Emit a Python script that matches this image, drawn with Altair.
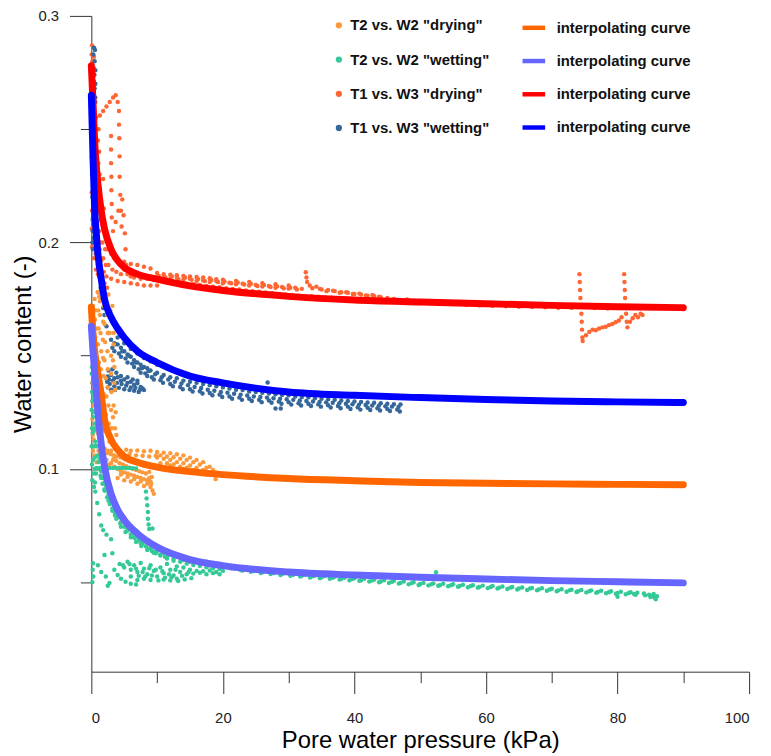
import altair as alt
import pandas as pd

# ---------------- data ----------------
series_names = ['T2 vs. W2 "drying"', 'T2 vs. W2 "wetting"',
                'T1 vs. W3 "drying"', 'T1 vs. W3 "wetting"']
point_colors = ["#FB9A3C", "#35C997", "#FF6633", "#35679A"]
curve_ids = ["c_t2_dry", "c_t2_wet", "c_t1_dry", "c_t1_wet"]
curve_colors = ["#FF6600", "#6666FF", "#FF0000", "#0000FF"]

t2_dry_pts = [
    (0.2,0.172),(0.3,0.165),(0.2,0.158),(0.35,0.15),(0.25,0.142),(0.4,0.135),(0.3,0.128),(0.45,0.12),
    (0.35,0.113),(0.5,0.106),(0.6,0.17),(0.7,0.162),(0.8,0.155),(0.75,0.147),(0.9,0.14),(0.85,0.132),
    (1.0,0.124),(0.95,0.116),(1.1,0.108),(1.2,0.176),(1.3,0.168),(1.4,0.16),(1.5,0.152),(1.45,0.144),
    (1.5,0.136),(1.55,0.128),(1.5,0.12),(1.6,0.112),(1.7,0.18),(1.9,0.172),(2.0,0.164),(2.1,0.156),
    (2.0,0.148),(2.2,0.14),(2.3,0.132),(2.2,0.124),(2.4,0.116),(2.5,0.108),(2.6,0.177),(2.7,0.169),
    (2.8,0.16),(3.0,0.15),(3.0,0.142),(3.05,0.134),(3.0,0.126),(3.1,0.118),(3.2,0.112),(3.3,0.165),
    (3.4,0.155),(3.5,0.145),(2.7,0.102),(3.5,0.105),(3.3,0.1228),(1.75,0.124),
    (0.1,0.168),(0.15,0.16),(0.1,0.152),(0.15,0.145),(0.1,0.138),(0.2,0.13),(0.15,0.122),(0.2,0.115),
    (0.25,0.108),(0.5,0.175),(0.55,0.166),(0.6,0.158),(0.55,0.15),(0.65,0.142),(0.6,0.134),(0.7,0.126),
    (0.65,0.118),(0.75,0.11),(0.8,0.103),(1.0,0.178),(1.05,0.17),(1.1,0.162),(1.0,0.155),(1.15,0.147),
    (1.2,0.139),(1.25,0.131),(1.2,0.123),(1.3,0.115),(1.35,0.107),(1.8,0.165),(1.75,0.157),(1.8,0.149),
    (1.85,0.141),(1.9,0.133),(1.85,0.125),(1.95,0.117),(2.0,0.109),(2.05,0.102),(2.4,0.168),(2.5,0.16),
    (2.45,0.152),(2.5,0.144),(2.55,0.136),(2.6,0.128),(2.65,0.12),(2.75,0.112),(3.2,0.172),(3.6,0.135),
    (3.7,0.125),(3.8,0.115),
    (1.3,0.174),(2.2,0.175),(2.9,0.17),(3.4,0.16),(3.3,0.148),(3.5,0.138),(3.4,0.128),(3.6,0.118),
    (3.0,0.108),(2.3,0.104),(1.7,0.105),(1.4,0.1),(0.9,0.1),
    (2.5,0.107),(3,0.1065),(3.5,0.106),(4,0.1055),(4.5,0.105),(5,0.1045),(5.5,0.104),(6,0.1035),
    (6.5,0.103),(7,0.1025),(7.5,0.102),(8,0.1015),(3,0.1025),(3.5,0.101),(4,0.1),(4.5,0.099),
    (5,0.0985),(5.5,0.098),(6,0.0975),(6.5,0.097),(7,0.0965),(7.5,0.096),(8,0.0955),(8.5,0.095),
    (9,0.0945),(4,0.096),(5,0.095),(6,0.0945),(7,0.0935),(8,0.0925),(9,0.092),(9.3,0.0905),
    (9.5,0.089),(8.8,0.0987),(9.2,0.0965),
    (3.3,0.104),(3.8,0.1035),(4.3,0.1025),(4.8,0.102),(5.3,0.1012),(5.8,0.1005),(6.3,0.1),(6.8,0.0995),
    (7.3,0.099),(7.8,0.0985),(8.3,0.098),(8.8,0.096),(4.5,0.0975),(5.5,0.0965),(6.5,0.0955),
    (7.5,0.0945),(8.5,0.0935),(9.1,0.0935),
    (5.3,0.1085),(6,0.108),(7,0.1082),(8,0.1078),(9,0.108),(10,0.1075),(11,0.1072),(12,0.107),
    (13,0.1065),(14,0.106),(15,0.105),(16,0.104),(17,0.103),(18,0.101),(18.9,0.0985),(10,0.105),
    (11,0.1045),(12,0.104),(13,0.103),(14,0.1025),(15,0.1015),(16,0.1005),(17,0.0995),(18,0.098),
    (18.9,0.0955),(12,0.1015),(14,0.1),(16,0.0985),
    (5.8,0.1065),(6.8,0.106),(7.8,0.1058),(8.8,0.1055),(9.8,0.1058),(10.5,0.106),(11.5,0.1055),
    (12.5,0.1052),(13.5,0.1045),(14.5,0.104),(15.5,0.103),(16.5,0.102),(17.5,0.1005),(18.5,0.0995),
    (10.5,0.1025),(11.5,0.1025),(12.5,0.102),(13.5,0.101),(14.5,0.1005),(15.5,0.0995),(16.5,0.0985),
    (17.5,0.0975),
]

t2_wet_pts = [
    (0.1,0.16),(0.15,0.152),(0.1,0.145),(0.2,0.138),(0.15,0.13),(0.25,0.123),(0.2,0.116),(0.3,0.11),
    (0.25,0.104),(0.35,0.098),(0.4,0.092),(0.5,0.12),(0.6,0.112),(0.55,0.105),
    (0.05,0.158),(0.1,0.15),(0.05,0.142),(0.1,0.134),(0.05,0.126),(0.1,0.118),(0.05,0.11),(0.1,0.102),
    (0.15,0.095),(0.3,0.14),(0.35,0.132),(0.3,0.125),(0.4,0.117),(0.45,0.11),(0.5,0.1),(0.55,0.094),
    (0.7,0.098),
    (0.8,0.1004),(1.3,0.1004),(1.8,0.1004),(2.3,0.1004),(2.8,0.1004),(3.3,0.1004),(3.8,0.1004),
    (4.3,0.1004),(4.8,0.1004),(5.3,0.1004),(5.8,0.1004),(6.3,0.1003),(6.8,0.1002),
    (8.3,0.09),(8.4,0.087),(8.5,0.084),(8.6,0.081),(8.6,0.078),(8.7,0.0755),(8.8,0.0735),(9.3,0.0737),
    (0.6,0.118),(0.8,0.11),(1.0,0.106),(1.25,0.1044),(1.5,0.099),(1.8,0.096),(2.0,0.094),(2.26,0.0927),
    (2.6,0.089),(3.0,0.086),(3.4,0.083),(3.77,0.0812),(4.2,0.079),(4.7,0.077),(5.2,0.0755),(5.8,0.0737),
    (6.4,0.0715),(7,0.07),(7.6,0.068),(8.3,0.0659),(9,0.065),(10,0.0638),(11,0.063),(12,0.0622),
    (13.3,0.0615),(14.5,0.0606),(16,0.0598),(17.5,0.059),(19,0.0582),(20.5,0.0575),(22,0.0565),
    (23.4,0.0558),(25,0.0553),(26.5,0.0549),(28,0.0544),(29.5,0.054),(31,0.0537),(32.5,0.0533),
    (34,0.053),(35.5,0.0527),(37,0.0524),(38.5,0.052),(40,0.0518),(41.5,0.0515),(43,0.0512),
    (44.5,0.0509),(46,0.0506),(47.5,0.0503),(49,0.05),(50.5,0.0497),(52,0.0495),(53.5,0.0493),
    (55,0.0491),(56.5,0.0489),(58,0.0487),(59.5,0.0485),(61,0.0483),(62.5,0.0481),(64,0.0479),
    (65.5,0.0477),(67,0.0475),(68.5,0.0473),(70,0.0471),(71.5,0.0469),(73,0.0467),(74.5,0.0466),
    (76,0.0464),(77.5,0.0462),(79,0.046),(80.5,0.0458),(82,0.0456),(83,0.0454),(84,0.045),
    (84.8,0.0445),(85.3,0.044),(85.6,0.0432),(85.8,0.0425),(85.5,0.0448),
    (21.25,0.0561),(22.75,0.0553),(24.25,0.0546),(25.75,0.0541),(27.25,0.0536),(28.75,0.0532),
    (30.25,0.0528),(31.75,0.0525),(33.25,0.0521),(34.75,0.0518),(36.25,0.0515),(37.75,0.0512),
    (39.25,0.0509),(40.75,0.0506),(42.25,0.0503),(43.75,0.05),(45.25,0.0497),(46.75,0.0494),
    (48.25,0.0491),(49.75,0.0488),(51.25,0.0486),(52.75,0.0484),(54.25,0.0482),(55.75,0.048),
    (57.25,0.0478),(58.75,0.0476),(60.25,0.0474),(61.75,0.0472),(63.25,0.047),(64.75,0.0468),
    (66.25,0.0466),(67.75,0.0464),(69.25,0.0462),(70.75,0.046),(72.25,0.0458),(73.75,0.0457),
    (75.25,0.0455),(76.75,0.0453),(78.25,0.0451),(79.75,0.0449),(81.25,0.0447),(82.75,0.0445),
    (1.2,0.1),(2.0,0.0905),(2.8,0.0845),(3.6,0.0805),(4.5,0.0765),(5.5,0.0728),(6.5,0.0698),
    (7.5,0.0672),(9.5,0.0635),(11.5,0.0612),(14,0.0598),(17,0.0584),(20,0.0568),(23,0.0552),
    (26,0.0544),(29,0.0536),(32,0.0528),(35,0.0522),(38,0.0515),(41,0.0509),(44,0.0503),(47,0.0497),
    (50,0.0492),(53,0.0487),(56,0.0483),(59,0.0479),(62,0.0476),(65,0.0472),(68,0.0468),(71,0.0464),
    (74,0.046),(77,0.0457),(80,0.0452),(82.5,0.0448),
    (1.1,0.103),(1.4,0.097),(1.7,0.0935),(2.1,0.0905),(2.4,0.0875),(2.8,0.0865),(3.2,0.0825),
    (3.6,0.0795),(4.0,0.0785),(4.4,0.076),(5.0,0.0745),(5.5,0.0738),(6.0,0.0712),(6.6,0.0695),
    (7.2,0.0685),(7.8,0.067),(8.6,0.0648),(9.2,0.0638),(9.8,0.0628),(10.5,0.0622),(11.2,0.0612),
    (12.5,0.0605),(13.8,0.0598),(15,0.059),(16.5,0.0582),(18,0.0575),(19.5,0.0568),
    (1.5,0.096),(2.0,0.091),(2.6,0.086),(3.2,0.0815),(3.8,0.078),(4.5,0.0745),(5.2,0.0722),(6.0,0.0698),
    (6.8,0.0678),(7.6,0.066),(8.5,0.0642),(9.5,0.063),(10.5,0.0618),(11.5,0.0605),(12.5,0.0595),
    (13.5,0.059),(14.5,0.0582),(15.5,0.0576),(16.5,0.0572),(17.5,0.0566),(18.5,0.0562),(19.5,0.0558),
    (21.7,0.056),(24.7,0.0549),(27.7,0.054),(30.7,0.0533),(33.7,0.0526),(36.7,0.052),(39.7,0.0514),
    (42.7,0.0508),(45.7,0.0502),(48.7,0.0496),(51.7,0.0491),(54.7,0.0487),(57.7,0.0483),(60.7,0.0479),
    (63.7,0.0476),(66.7,0.0472),(69.7,0.0468),(72.7,0.0464),(75.7,0.046),(78.7,0.0456),(81.7,0.0452),
    (84.2,0.0442),(85,0.0435),(86,0.0438),
    (4.3,0.058),(5,0.0565),(5.5,0.059),(6,0.0555),(6.5,0.0575),(7,0.0545),(7.5,0.0585),(8,0.056),
    (8.5,0.0535),(9,0.0575),(9.5,0.055),(10,0.0525),(10.5,0.0565),(11,0.054),(11.5,0.058),(12,0.0555),
    (12.5,0.053),(13,0.057),(13.5,0.0545),(14,0.0565),(14.5,0.0535),(15,0.0555),(6,0.0525),(7,0.051),
    (8,0.0515),(9,0.051),(11,0.0512),(12,0.0508),(13,0.0515),(16,0.055),(17,0.0548),(18,0.0552),
    (19,0.0545),(20,0.055),
    (4.8,0.0575),(5.8,0.058),(6.8,0.056),(7.8,0.0545),(8.8,0.0562),(9.8,0.0555),(10.8,0.0548),
    (11.8,0.0535),(12.8,0.0555),(13.8,0.0528),(14.8,0.0545),(15.5,0.0538),(16.5,0.0542),(17.5,0.0535),
    (18.5,0.054),(19.5,0.0535),(7.2,0.0528),(8.2,0.0525),(9.2,0.053),(10.2,0.0508),(11.2,0.052),
    (12.2,0.0522),(13.2,0.0505),(14.2,0.0512),(15.2,0.0518),
    (0.25,0.0584),(0.2,0.0555),(0.3,0.0525),(0.15,0.05),(1.0,0.0575),(2.0,0.062),(3.2,0.0628),
    (2.76,0.0497),(2.5,0.0484),(4.0,0.0532),(4.5,0.0515),(5.2,0.0502),(6.0,0.0493),(6.8,0.049),
    (3.5,0.0555),(2.2,0.0525),(1.5,0.0545),(0.6,0.09),(0.9,0.085),(1.2,0.08),(1.5,0.075),
    (1.8,0.073),(2.3,0.071),(3.0,0.069),(52.4,0.0544),(80,0.0436),
]

t1_dry_pts = [
    (0.1,0.287),(0.15,0.280),(0.1,0.272),(0.2,0.265),(0.15,0.258),(0.2,0.25),(0.25,0.243),(0.2,0.236),
    (0.3,0.229),(0.25,0.222),(0.3,0.215),(0.35,0.208),(0.3,0.2),(0.4,0.193),
    (0.05,0.283),(0.1,0.276),(0.05,0.268),(0.1,0.26),(0.05,0.252),(0.1,0.245),(0.05,0.238),(0.1,0.23),
    (0.05,0.222),(0.1,0.214),(0.05,0.206),(0.1,0.198),
    (0.4,0.282),(0.45,0.274),(0.4,0.266),(0.45,0.258),(0.5,0.25),(0.45,0.242),(0.5,0.234),(0.55,0.226),
    (0.5,0.218),(0.55,0.21),(0.6,0.202),(0.65,0.195),(0.7,0.188),
    (0.6,0.27),(0.6,0.262),(0.7,0.255),(0.65,0.247),(0.7,0.24),(0.75,0.232),(0.8,0.224),(0.8,0.216),
    (0.85,0.208),(0.9,0.2),(0.95,0.193),(1.0,0.186),(1.0,0.178),
    (1.0,0.245),(1.05,0.235),(1.1,0.225),(1.15,0.215),(1.2,0.205),(1.25,0.197),(1.3,0.19),(1.35,0.184),
    (1.2,0.178),
    (1.1,0.25),(1.2,0.24),(1.25,0.23),(1.3,0.22),(1.35,0.21),(1.4,0.2),(1.5,0.192),(1.6,0.186),(1.5,0.18),
    (1.8,0.228),(1.9,0.215),(2.0,0.205),(2.1,0.197),(2.2,0.19),(2.3,0.185),
    (1.7,0.2),(1.8,0.193),(1.9,0.187),(2.0,0.182),(2.4,0.18),
    (1.3,0.256),(1.8,0.258),(2.3,0.26),(2.8,0.262),(3.3,0.264),(3.7,0.265),(4.0,0.262),(4.2,0.258),
    (4.2,0.252),(4.25,0.246),(4.3,0.238),(4.3,0.229),(4.4,0.221),(4.5,0.214),(4.6,0.207),
    (3.0,0.247),(3.0,0.241),(3.0,0.235),(3.05,0.229),(3.05,0.223),(3.1,0.217),(3.1,0.211),
    (3.3,0.205),(3.7,0.209),(4.1,0.214),(4.7,0.219),(4.9,0.212),(5.1,0.204),(5.2,0.197),(5.3,0.19),
    (2.5,0.197),(3,0.195),(3.5,0.193),(4,0.192),(2.6,0.19),(3.2,0.188),(3.8,0.187),(4.5,0.186),
    (5,0.188),(5.5,0.186),(6,0.185),(6.5,0.1845),(7,0.186),(7.5,0.184),(8,0.1855),(8.5,0.184),
    (9,0.1848),(9.5,0.1835),(10,0.1845),
    (3,0.184),(4,0.183),(5,0.1825),(6,0.182),(7,0.1815),(8,0.181),(9,0.181),(10,0.181),
    (5,0.1915),(6,0.1905),(7,0.19),(8,0.1893),(9,0.1885),(10,0.1865),(11,0.186),(12,0.1857),
    (13,0.1855),(14,0.1852),(15,0.185),(16,0.1847),(17,0.1845),(18,0.1842),(19,0.1838),(20,0.1835),
    (22,0.183),(24,0.1825),(26,0.182),(28,0.1815),(30,0.181),
    (10.25,0.1852),(11.25,0.1845),(12.25,0.185),(13.25,0.1838),(14.25,0.1845),(15.25,0.1835),
    (16.25,0.1838),(17.25,0.183),(18.25,0.1834),(19.25,0.1825),(20.25,0.1828),(21.25,0.182),
    (22.25,0.1823),(23.25,0.1814),(24.25,0.1818),(25.25,0.1808),(26.25,0.1812),(27.25,0.1803),
    (28.25,0.1806),(29.25,0.1798),(30.25,0.18),(31.25,0.1792),(34.75,0.1795),(35.75,0.1785),
    (36.75,0.1787),(37.75,0.1778),(38.75,0.178),(39.75,0.1772),(40.75,0.1774),(41.75,0.1766),
    (42.75,0.1768),(43.75,0.176),
    (11,0.1848),(12,0.184),(13,0.1845),(14,0.1835),(15,0.184),(16,0.183),(17,0.1832),(18,0.1825),
    (19,0.183),(20,0.182),(21,0.1822),(22,0.1815),(23,0.1818),(24,0.181),(25,0.1812),(26,0.1805),
    (27,0.1808),(28,0.18),(29,0.1803),(30,0.1797),(31,0.18),(32,0.1795),(32.6,0.1868),(32.7,0.1845),
    (32.8,0.1825),(33.2,0.181),(33.6,0.1798),(34.2,0.1805),(35,0.1792),(36,0.179),(37,0.1785),
    (38,0.178),(39,0.1778),(40,0.1772),(41,0.177),(42,0.1765),(43,0.1762),(44,0.1758),(45,0.1755),
    (10.5,0.1832),(11.5,0.1828),(12.5,0.1825),(13.5,0.1822),(14.5,0.1818),(15.5,0.1815),(16.5,0.1812),
    (17.5,0.1808),(18.5,0.1805),(19.5,0.1802),(20.5,0.1798),(21.5,0.1795),(22.5,0.1792),(23.5,0.1788),
    (24.5,0.1785),(25.5,0.1782),(26.5,0.1779),(27.5,0.1776),(28.5,0.1773),(29.5,0.177),(30.5,0.1768),
    (31.5,0.1765),(33.5,0.1762),(34.5,0.176),(35.5,0.1758),(36.5,0.1756),(37.5,0.1754),(38.5,0.1752),
    (39.5,0.175),(40.5,0.1748),(41.5,0.1746),(42.5,0.1744),(43.5,0.1742),(44.5,0.174),
    (46,0.175),(47,0.1745),(48,0.1748),(49,0.174),(50,0.1742),(51,0.1735),(52,0.1738),(53,0.173),
    (54,0.1736),(55,0.1728),(56,0.1733),(57,0.1725),(58,0.173),(59,0.1722),(60,0.1728),(61,0.172),
    (62,0.1726),(63,0.1718),(64,0.1724),(65,0.1716),(66,0.1722),(67,0.1715),(68,0.172),(69,0.1714),
    (70,0.1719),(71,0.1712),(72,0.1717),(73,0.1712),
    (74.2,0.186),(74.25,0.1825),(74.3,0.179),(74.35,0.1755),(74.4,0.172),(74.5,0.1685),(74.55,0.165),
    (74.6,0.1615),(74.65,0.158),(74.7,0.1565),(75.2,0.159),(75.7,0.1605),(76.2,0.1615),(76.7,0.1612),
    (77.2,0.162),(77.7,0.1625),(78.2,0.1628),(78.7,0.1635),(79.2,0.164),(79.7,0.1648),(80.2,0.1655),
    (80.6,0.167),(75.5,0.1715),(76.5,0.171),(77.5,0.1712),(78.5,0.1708),(79.5,0.1712),(80.5,0.171),
    (81.0,0.186),(81.05,0.1825),(81.1,0.179),(81.15,0.1755),(81.2,0.172),(81.3,0.1685),(81.4,0.165),
    (81.5,0.1625),(81.9,0.165),(82.3,0.1665),(82.7,0.168),(83.1,0.167),(83.5,0.1685),(83.8,0.168),
]

t1_wet_pts = [
    (0.4,0.286),(0.5,0.28),(0.45,0.274),(0.5,0.268),(0.55,0.262),(0.5,0.256),(0.45,0.25),(0.5,0.244),
    (0.4,0.238),(0.45,0.232),(0.35,0.226),(0.4,0.22),(0.3,0.214),(0.35,0.208),(0.3,0.202),(0.25,0.197),
    (0.3,0.283),(0.35,0.277),(0.4,0.271),(0.35,0.265),(0.4,0.259),(0.35,0.253),(0.4,0.247),(0.35,0.241),
    (0.3,0.235),(0.35,0.229),(0.25,0.223),(0.3,0.217),(0.25,0.211),(0.2,0.205),(0.15,0.2),(0.55,0.285),
    (0.6,0.276),(0.6,0.27),(0.6,0.264),(0.55,0.25),(0.6,0.24),
    (0.2,0.23),(0.15,0.22),(0.2,0.21),(0.25,0.205),(0.6,0.23),(0.7,0.215),(0.8,0.205),(0.9,0.198),
    (1.0,0.19),(1.2,0.185),(1.4,0.18),(1.6,0.175),(1.8,0.171),(2.0,0.168),(2.3,0.163),(2.6,0.16),
    (3,0.157),(3.5,0.1555),(4,0.155),(4.5,0.1535),(5,0.152),(5.5,0.1505),(6,0.1495),(6.5,0.148),
    (7,0.147),(7.5,0.146),(8,0.145),(8.5,0.1445),(9,0.1435),(10,0.1425),(11,0.1415),(12,0.1405),
    (13,0.14),(14,0.139),(15,0.1385),(16,0.138),(17,0.1375),(18,0.137),(19,0.1365),(20,0.136),
    (21,0.1355),(22,0.135),(23,0.1348),(24,0.1342),(25,0.134),(26,0.1336),(27,0.1333),(28,0.133),
    (29,0.1327),(30,0.1325),(31,0.132),(32,0.1318),(33,0.1316),(34,0.1312),(35,0.131),(36,0.1308),
    (37,0.1305),(38,0.1302),(39,0.13),(40,0.1298),(41,0.1296),(42,0.1293),(43,0.1292),(44,0.129),
    (45,0.1288),(46,0.1286),(47,0.1285),
    (3.7,0.155),(4.7,0.152),(5.7,0.15),(6.7,0.147),(7.7,0.1445),(8.7,0.1432),(9.7,0.1418),
    (10.7,0.1405),(11.7,0.1395),(12.7,0.1385),(13.7,0.1377),(14.7,0.137),(15.7,0.1362),(16.7,0.1357),
    (17.7,0.135),(18.7,0.1345),(19.7,0.134),(20.7,0.1336),(21.7,0.1332),(22.7,0.1328),(23.7,0.1324),
    (24.7,0.132),(25.7,0.1318),(26.7,0.1315),(27.7,0.1312),(28.7,0.131),(29.7,0.1308),(30.7,0.1305),
    (31.7,0.1302),(32.7,0.13),(33.7,0.1298),(34.7,0.1296),(35.7,0.1294),(36.7,0.1292),(37.7,0.129),
    (38.7,0.1288),(39.7,0.1286),(40.7,0.1284),(41.7,0.1282),(42.7,0.128),(43.7,0.1279),(44.7,0.1277),
    (45.7,0.1275),(46.7,0.1274),
    (3.2,0.1535),(4.2,0.151),(5.2,0.1488),(6.2,0.1465),(7.2,0.144),(8.2,0.1422),(9.2,0.1405),
    (10.5,0.1392),(12,0.1375),(13.5,0.1362),(15,0.1352),(16.5,0.1343),(18,0.1335),(19.5,0.1328),
    (21,0.132),(22.5,0.1315),(24,0.131),(25.5,0.1305),(27,0.1302),(28.5,0.1298),(30,0.1295),
    (31.5,0.129),(33,0.1288),(34.5,0.1285),(36,0.1281),(37.5,0.1278),(39,0.1275),(40.5,0.1272),
    (42,0.127),(43.5,0.1268),(45,0.1265),(46.5,0.1262),
    (3.5,0.152),(4.5,0.1495),(5.5,0.147),(6.5,0.145),(7.5,0.1425),(8.5,0.141),(9.5,0.1395),
    (10.9,0.138),(12.4,0.1365),(13.9,0.1352),(15.4,0.1342),(16.9,0.1333),(18.4,0.1325),(19.9,0.1318),
    (21.4,0.131),(22.9,0.1305),(24.4,0.13),(25.9,0.1295),(27.4,0.1292),(28.9,0.1288),(30.4,0.1284),
    (31.9,0.128),(33.4,0.1278),(34.9,0.1275),(36.4,0.1271),(37.9,0.1268),(39.4,0.1265),(40.9,0.1262),
    (42.4,0.126),(43.9,0.1258),(45.4,0.1256),(46.9,0.1254),
    (4,0.158),(5,0.1555),(6,0.153),(7,0.151),(8,0.149),(9,0.1475),(10,0.146),
    (2.5,0.1408),(3,0.1415),(3.5,0.14),(4,0.1405),(4.5,0.139),(5,0.1395),(5.5,0.138),(6,0.1385),
    (6.5,0.1372),(7,0.1378),(7.5,0.1362),(7.8,0.1355),(2.8,0.1375),(3.5,0.1365),(4.2,0.1358),
    (5,0.1352),(5.8,0.1348),(6.5,0.1345),(7.2,0.134),(2.6,0.1435),(3.2,0.144),
    (2.7,0.1395),(3.3,0.139),(3.9,0.138),(4.6,0.1375),(5.3,0.1368),(6,0.136),(6.7,0.1358),(7.4,0.135),
    (8,0.1348),(3.8,0.1425),(4.5,0.141),(5.5,0.1405),(6.3,0.1395),(7,0.139),(2.4,0.1385),(2.5,0.136),
    (3,0.135),(3.6,0.1348),
    (26.8,0.1382),(28.0,0.1267),(28.8,0.1267),
]

curve_x = [0, 0.25, 0.5, 0.75, 1, 1.5, 2, 3, 4, 5, 7, 10, 15, 20, 30, 40, 50, 60, 70, 80, 90]
t2_dry_curve = [0.1715, 0.160, 0.152, 0.147, 0.142, 0.133, 0.122, 0.113, 0.1085, 0.1055, 0.103,
                0.1008, 0.0988, 0.0975, 0.0958, 0.0948, 0.094, 0.0937, 0.0934, 0.0932, 0.093]
t2_wet_curve = [0.163, 0.152, 0.143, 0.134, 0.125, 0.111, 0.101, 0.089, 0.082, 0.0775, 0.0715,
                0.0655, 0.0600, 0.0573, 0.0545, 0.0532, 0.0522, 0.0514, 0.0507, 0.0502, 0.0497]
t1_dry_curve = [0.278, 0.262, 0.245, 0.234, 0.226, 0.214, 0.206, 0.197, 0.192, 0.189, 0.186,
                0.1838, 0.1808, 0.1788, 0.1762, 0.1746, 0.1737, 0.1729, 0.1722, 0.1716, 0.1712]
t1_wet_curve = [0.265, 0.238, 0.215, 0.204, 0.195, 0.184, 0.175, 0.167, 0.162, 0.158, 0.152,
                0.147, 0.141, 0.138, 0.134, 0.1325, 0.1315, 0.1307, 0.130, 0.1296, 0.1293]

x_major = [0, 20, 40, 60, 80, 100]
x_minor = [10, 30, 50, 70, 90]
y_major = [0.1, 0.2, 0.3]
y_minor = [0.05, 0.15, 0.25]

# ---------------- tables ----------------
pt_rows = []
for name, pts in zip(series_names, [t2_dry_pts, t2_wet_pts, t1_dry_pts, t1_wet_pts]):
    for x, y in pts:
        pt_rows.append({"series": name, "x": x, "y": y})
points_df = pd.DataFrame(pt_rows)

cv_rows = []
for cid, ys in zip(curve_ids, [t2_dry_curve, t2_wet_curve, t1_dry_curve, t1_wet_curve]):
    for x, y in zip(curve_x, ys):
        cv_rows.append({"curve": cid, "x": x, "y": y})
curves_df = pd.DataFrame(cv_rows)

FONT = "Liberation Sans"
x_scale = alt.Scale(domain=[0, 100], nice=False)
y_scale = alt.Scale(domain=[0.0105, 0.3], nice=False, zero=False)

points = alt.Chart(points_df).mark_circle(size=20, opacity=1).encode(
    x=alt.X("x:Q", scale=x_scale,
            axis=alt.Axis(values=x_major, orient="bottom", title="Pore water pressure (kPa)",
                          tickSize=22, labelPadding=17, titlePadding=3)),
    y=alt.Y("y:Q", scale=y_scale,
            axis=alt.Axis(values=y_major, orient="left", title="Water content (-)", format=".1f",
                          tickSize=22, labelPadding=11, titlePadding=2)),
    color=alt.Color("series:N", scale=alt.Scale(domain=series_names, range=point_colors),
                    sort=series_names,
                    legend=alt.Legend(title=None, orient="none", legendX=242, legendY=2,
                                      symbolType="circle", symbolSize=40, rowPadding=18.5,
                                      labelFont=FONT, labelFontSize=15, labelFontWeight="bold",
                                      labelColor="#111", labelOffset=4, padding=0)),
    order=alt.Order("series:N"),
)

curves = alt.Chart(curves_df).mark_line(strokeWidth=7, strokeCap="round", interpolate="monotone").encode(
    x=alt.X("x:Q", scale=x_scale,
            axis=alt.Axis(values=x_minor, orient="bottom", title=None, labels=False,
                          domain=False, tickSize=11)),
    y=alt.Y("y:Q", scale=y_scale,
            axis=alt.Axis(values=y_minor, orient="left", title=None, labels=False,
                          domain=False, tickSize=11)),
    stroke=alt.Stroke("curve:N", scale=alt.Scale(domain=curve_ids, range=curve_colors),
                      sort=curve_ids,
                      legend=alt.Legend(title=None, orient="none", legendX=432, legendY=-2,
                                        symbolType="stroke", symbolSize=520, symbolStrokeWidth=4.5,
                                        rowPadding=10.5, labelExpr="'interpolating curve'",
                                        labelFont=FONT, labelFontSize=15, labelFontWeight="bold",
                                        labelColor="#111", labelOffset=9, padding=0)),
)

chart = alt.layer(points, curves).resolve_axis(x="independent", y="independent").properties(
    width=663, height=661,
    autosize=alt.AutoSizeParams(type="none"),
    padding={"left": 84, "top": 5, "right": 14, "bottom": 80},
).configure_view(stroke=None).configure_axis(
    grid=False, domainColor="#333", tickColor="#333", domainWidth=1, tickWidth=1,
    labelFont=FONT, labelFontSize=15, labelColor="#222",
    titleFont=FONT, titleFontSize=24, titleFontWeight="normal", titleColor="#000",
)

chart.save("out.html", embed_options={"renderer": "svg", "actions": False})
